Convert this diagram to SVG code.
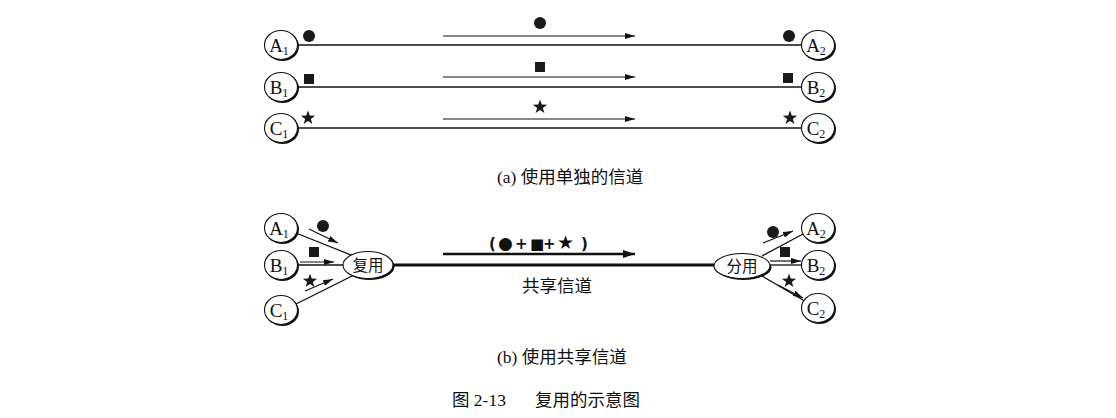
<svg xmlns="http://www.w3.org/2000/svg" xmlns:xlink="http://www.w3.org/1999/xlink" width="1116" height="418" viewBox="0 0 1116 418">
<defs>
<style>
.bg{fill:#fff}
.ln{stroke:#111;stroke-width:1.3;fill:none}
.thin{stroke:#111;stroke-width:1.2;fill:none}
.thick{stroke:#111;stroke-width:3;fill:none}
.shadow{fill:#111}
.nd{fill:#fff;stroke:#111;stroke-width:1.1}
.lbl{font-family:"Liberation Serif","Noto Sans CJK SC",serif;font-size:19px;fill:#111}
.sub{font-size:12px}
.cn{font-family:"Liberation Serif","Noto Sans CJK SC",serif;font-size:17.5px;fill:#111}
.in{font-size:15.5px}
.sym{fill:#1a1a1a}
</style>
<marker id="ah" viewBox="0 0 10 6" refX="10" refY="3" markerWidth="10" markerHeight="6" markerUnits="userSpaceOnUse" orient="auto">
<path d="M0,0 L10,3 L0,6 Z" fill="#111"/>
</marker>
<marker id="ahb" viewBox="0 0 12 8" refX="12" refY="4" markerWidth="12" markerHeight="8" markerUnits="userSpaceOnUse" orient="auto">
<path d="M0,0 L12,4 L0,8 Z" fill="#111"/>
</marker>
<path id="star" d="M0,-7.5 L1.76,-2.43 L7.13,-2.32 L2.85,0.93 L4.41,6.07 L0,3 L-4.41,6.07 L-2.85,0.93 L-7.13,-2.32 L-1.76,-2.43 Z"/>
</defs>
<rect class="bg" x="0" y="0" width="1116" height="418"/>

<!-- ===== (a) connectors ===== -->
<g id="connectors-a">
<line class="ln" x1="297" y1="45" x2="802" y2="45"/>
<line class="ln" x1="297" y1="87" x2="802" y2="87"/>
<line class="ln" x1="297" y1="128" x2="802" y2="128"/>
<line class="thin" x1="443" y1="36" x2="635" y2="36" marker-end="url(#ah)"/>
<line class="thin" x1="443" y1="77" x2="635" y2="77" marker-end="url(#ah)"/>
<line class="thin" x1="443" y1="119" x2="635" y2="119" marker-end="url(#ah)"/>
<circle class="sym" cx="309" cy="36" r="6"/>
<rect class="sym" x="304" y="74" width="10" height="10"/>
<use href="#star" class="sym" x="308" y="118"/>
<circle class="sym" cx="540" cy="23" r="6"/>
<rect class="sym" x="535" y="62" width="10" height="10"/>
<use href="#star" class="sym" x="540" y="107"/>
<circle class="sym" cx="789" cy="36" r="6"/>
<rect class="sym" x="783" y="73" width="10" height="10"/>
<use href="#star" class="sym" x="790" y="118"/>
</g>

<!-- ===== (a) nodes ===== -->
<g id="a-A1"><ellipse class="shadow" cx="282.5" cy="46.5" rx="16.5" ry="14.5"/><ellipse class="nd" cx="281" cy="45" rx="16.5" ry="14.5"/><text class="lbl" x="279" y="52" text-anchor="middle">A<tspan class="sub" dy="3">1</tspan></text></g>
<g id="a-B1"><ellipse class="shadow" cx="282.5" cy="88.5" rx="16.5" ry="14.5"/><ellipse class="nd" cx="281" cy="87" rx="16.5" ry="14.5"/><text class="lbl" x="279" y="94" text-anchor="middle">B<tspan class="sub" dy="3">1</tspan></text></g>
<g id="a-C1"><ellipse class="shadow" cx="282.5" cy="129.5" rx="16.5" ry="14.5"/><ellipse class="nd" cx="281" cy="128" rx="16.5" ry="14.5"/><text class="lbl" x="279" y="135" text-anchor="middle">C<tspan class="sub" dy="3">1</tspan></text></g>
<g id="a-A2"><ellipse class="shadow" cx="819.5" cy="46.5" rx="16.5" ry="14.5"/><ellipse class="nd" cx="818" cy="45" rx="16.5" ry="14.5"/><text class="lbl" x="816" y="52" text-anchor="middle">A<tspan class="sub" dy="3">2</tspan></text></g>
<g id="a-B2"><ellipse class="shadow" cx="819.5" cy="88.5" rx="16.5" ry="14.5"/><ellipse class="nd" cx="818" cy="87" rx="16.5" ry="14.5"/><text class="lbl" x="816" y="94" text-anchor="middle">B<tspan class="sub" dy="3">2</tspan></text></g>
<g id="a-C2"><ellipse class="shadow" cx="819.5" cy="129.5" rx="16.5" ry="14.5"/><ellipse class="nd" cx="818" cy="128" rx="16.5" ry="14.5"/><text class="lbl" x="816" y="135" text-anchor="middle">C<tspan class="sub" dy="3">2</tspan></text></g>

<text class="cn" x="497" y="183">(a) 使用单独的信道</text>

<!-- ===== (b) connectors ===== -->
<g id="connectors-b">
<line class="ln" x1="296" y1="233" x2="356" y2="257"/>
<line class="ln" x1="298" y1="265" x2="344" y2="265"/>
<line class="ln" x1="296" y1="304" x2="356" y2="274"/>
<line class="thick" x1="393" y1="265" x2="716" y2="265"/>
<line class="ln" x1="762" y1="256" x2="803" y2="234"/>
<line class="ln" x1="770" y1="265" x2="802" y2="265"/>
<line class="ln" x1="762" y1="276" x2="803" y2="300"/>
<line class="thin" x1="309" y1="229" x2="338" y2="243" marker-end="url(#ah)"/>
<line class="thin" x1="300" y1="262" x2="334" y2="262" marker-end="url(#ah)"/>
<line class="thin" x1="305" y1="291" x2="333" y2="279" marker-end="url(#ah)"/>
<line class="thin" x1="763" y1="243" x2="793" y2="231" marker-end="url(#ah)"/>
<line class="thin" x1="770" y1="261" x2="801" y2="261" marker-end="url(#ah)"/>
<line class="thin" x1="778" y1="285" x2="803" y2="298" marker-end="url(#ah)"/>
<line x1="443" y1="254" x2="635" y2="254" stroke="#111" stroke-width="2.6" marker-end="url(#ahb)"/>
<circle class="sym" cx="323" cy="226" r="6"/>
<rect class="sym" x="309" y="247" width="10" height="10"/>
<use href="#star" class="sym" x="310" y="281"/>
<circle class="sym" cx="773" cy="232" r="6"/>
<rect class="sym" x="780" y="247" width="10" height="10"/>
<use href="#star" class="sym" x="789" y="281"/>
<text y="249" font-family="DejaVu Sans, sans-serif" font-weight="bold" fill="#111" font-size="15"><tspan x="489">(</tspan><tspan x="498" font-size="17">●</tspan><tspan x="515">+</tspan><tspan x="530">■</tspan><tspan x="543">+</tspan><tspan x="557" font-size="19">★</tspan><tspan x="581">)</tspan></text>
<text class="cn" x="522" y="292">共享信道</text>
</g>

<!-- ===== (b) nodes ===== -->
<g id="b-A1"><ellipse class="shadow" cx="282.5" cy="229.5" rx="16.5" ry="14.5"/><ellipse class="nd" cx="281" cy="228" rx="16.5" ry="14.5"/><text class="lbl" x="279" y="235" text-anchor="middle">A<tspan class="sub" dy="3">1</tspan></text></g>
<g id="b-B1"><ellipse class="shadow" cx="282.5" cy="266.5" rx="16.5" ry="14.5"/><ellipse class="nd" cx="281" cy="265" rx="16.5" ry="14.5"/><text class="lbl" x="279" y="272" text-anchor="middle">B<tspan class="sub" dy="3">1</tspan></text></g>
<g id="b-C1"><ellipse class="shadow" cx="282.5" cy="311.5" rx="16.5" ry="14.5"/><ellipse class="nd" cx="281" cy="310" rx="16.5" ry="14.5"/><text class="lbl" x="279" y="317" text-anchor="middle">C<tspan class="sub" dy="3">1</tspan></text></g>
<g id="mux"><ellipse class="shadow" cx="369.5" cy="266.5" rx="25" ry="13.5"/><ellipse class="nd" cx="368" cy="265" rx="25" ry="13.5"/><text class="cn in" x="368" y="271" text-anchor="middle">复用</text></g>
<g id="demux"><ellipse class="shadow" cx="743.5" cy="267.5" rx="28" ry="12.5"/><ellipse class="nd" cx="742" cy="266" rx="28" ry="12.5"/><text class="cn in" x="742" y="272" text-anchor="middle">分用</text></g>
<g id="b-A2"><ellipse class="shadow" cx="819.5" cy="229.5" rx="16.5" ry="14.5"/><ellipse class="nd" cx="818" cy="228" rx="16.5" ry="14.5"/><text class="lbl" x="816" y="235" text-anchor="middle">A<tspan class="sub" dy="3">2</tspan></text></g>
<g id="b-B2"><ellipse class="shadow" cx="819.5" cy="266.5" rx="16.5" ry="14.5"/><ellipse class="nd" cx="818" cy="265" rx="16.5" ry="14.5"/><text class="lbl" x="816" y="272" text-anchor="middle">B<tspan class="sub" dy="3">2</tspan></text></g>
<g id="b-C2"><ellipse class="shadow" cx="819.5" cy="309.5" rx="16.5" ry="14.5"/><ellipse class="nd" cx="818" cy="308" rx="16.5" ry="14.5"/><text class="lbl" x="816" y="315" text-anchor="middle">C<tspan class="sub" dy="3">2</tspan></text></g>

<text class="cn" x="497" y="363">(b) 使用共享信道</text>
<text class="cn" x="452" y="406" font-size="19">图 2-13</text>
<text class="cn" x="535" y="406" font-size="19">复用的示意图</text>
</svg>
